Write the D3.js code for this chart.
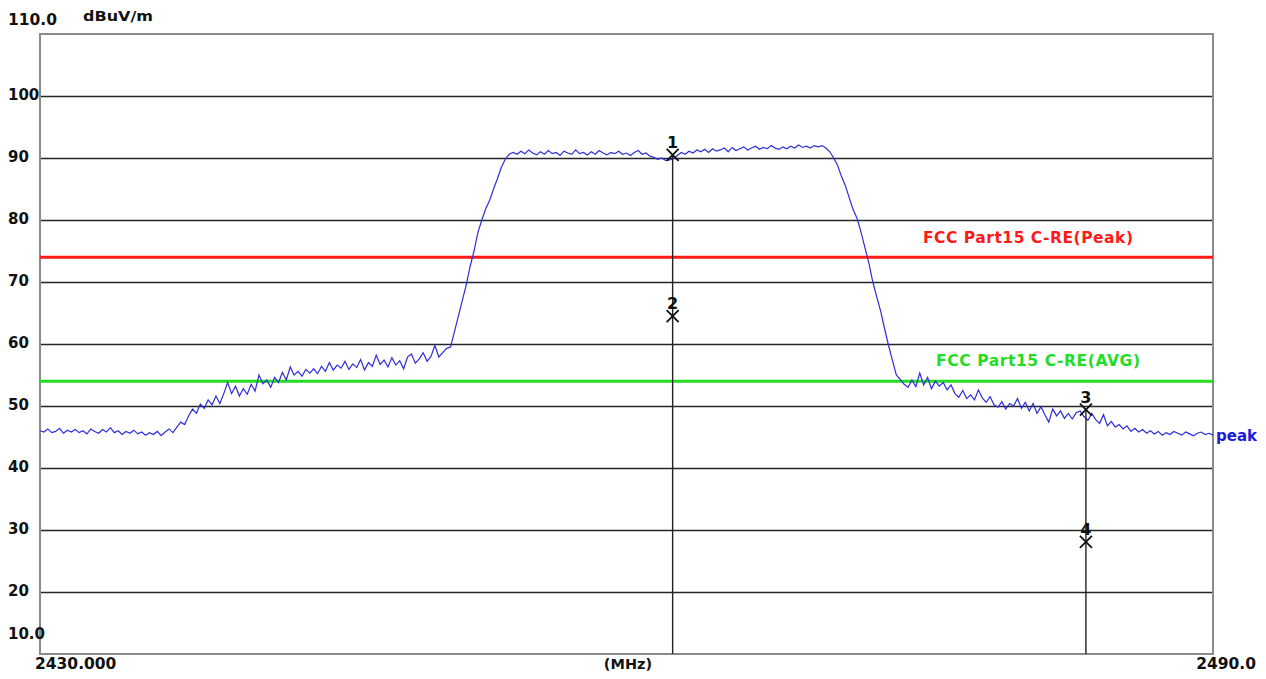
<!DOCTYPE html>
<html>
<head>
<meta charset="utf-8">
<script src="https://cdn.jsdelivr.net/npm/d3@7"></script>
<style>
  body { margin: 0; background: #fff; }
  svg text { font-family: "DejaVu Sans", Verdana, sans-serif; font-weight: bold; }
</style>
</head>
<body>
<svg id="chart" width="1266" height="679"></svg>
<script>
// spectrum trace, dBuV/m, sampled every 0.2 MHz from 2430 MHz
var freqStart = 2430, freqStep = 0.2;
var traceValues = [
  46.0, 45.8, 46.3, 45.7, 45.9, 46.4, 45.6, 46.1, 45.8, 46.2,
  45.7, 46.0, 45.5, 46.3, 45.9, 45.6, 46.2, 45.8, 46.5, 45.7,
  46.0, 45.4, 45.9, 45.6, 46.1, 45.5, 45.8, 45.3, 45.7, 45.4,
  45.9, 45.2, 45.8, 46.3, 45.7, 46.6, 47.4, 47.0, 48.4, 49.5,
  48.8, 50.3, 49.6, 51.0, 50.2, 51.6, 50.4, 52.0, 53.8, 52.0,
  53.2, 51.6, 52.8, 51.9, 53.5, 52.4, 55.0, 53.6, 54.2, 53.0,
  54.6, 53.8, 55.4, 54.2, 56.3, 55.0, 55.6, 54.8, 55.9, 55.3,
  56.0, 55.2, 56.4, 55.6, 57.0, 55.8, 56.6, 56.1, 57.2, 55.9,
  56.8, 56.2, 57.5, 55.8, 57.0, 56.4, 58.2, 56.7, 57.4, 56.3,
  57.8, 56.6, 57.3, 56.0, 57.9, 58.4, 56.9, 57.6, 58.6, 57.2,
  58.0, 59.8, 57.9, 58.6, 59.3,
  59.5, 62.0, 64.5, 67.0, 69.5, 72.5, 75.0, 78.0, 80.0, 81.8,
  83.2, 85.0, 86.7, 88.5, 89.8, 90.6,
  90.9, 90.6, 91.1, 90.7, 91.3, 90.8, 90.5, 91.0, 90.6, 91.2,
  90.7, 90.9, 90.4, 91.1, 90.8, 90.6, 91.3, 90.7, 90.9, 90.5,
  91.0, 90.6, 91.2, 90.8, 90.5, 90.9, 90.7, 91.1, 90.6, 90.8,
  90.4, 90.9, 91.2, 90.6, 90.8, 90.3, 90.1, 89.8, 90.0, 89.6,
  89.7, 89.9, 90.4, 90.9, 90.6, 91.1, 90.8, 91.3, 91.0, 91.4,
  90.9, 91.5, 91.1, 91.3, 91.6, 91.0, 91.7, 91.2, 91.5, 91.8,
  91.3, 91.6, 91.9, 91.4, 91.7, 91.5, 92.0, 91.6, 91.4, 91.8,
  91.5, 91.9, 91.6, 92.1, 91.7, 91.9, 91.6, 92.0, 91.8, 92.0,
  91.6, 91.0, 90.0, 88.8, 87.0, 85.5, 83.5, 81.6, 80.2, 78.0,
  75.5, 73.0, 70.0, 67.6, 65.3, 62.5, 59.8, 57.4, 55.0, 54.3,
  53.5, 53.0, 54.2, 53.1, 55.3, 53.4, 54.6, 52.8, 54.0, 53.2,
  53.8, 52.6, 53.4, 52.0, 51.4, 52.5, 51.2, 51.8, 51.0, 52.6,
  51.3, 50.6, 51.5, 50.2, 49.8, 50.7, 49.5, 50.4, 50.0, 51.2,
  49.6, 50.6, 49.2, 50.4, 48.8, 49.9, 48.6, 47.4, 49.5, 48.4,
  49.2, 48.0, 48.8, 47.9, 48.9, 49.2, 48.3, 47.7, 48.8, 47.8,
  47.2, 48.6, 46.8, 47.5, 46.6, 47.0, 46.3, 46.8, 45.9, 46.4,
  45.8, 46.2, 45.6, 46.0, 45.5, 45.9, 45.3, 45.7, 45.4, 45.9,
  45.6, 45.3, 45.8, 45.5, 45.2, 45.6, 45.8, 45.4, 45.6, 45.3
];

var yTicks = [100, 90, 80, 70, 60, 50, 40, 30, 20];
var limits = [
  {name: "FCC Part15 C-RE(Peak)", value: 74, color: "#ff1a1a"},
  {name: "FCC Part15 C-RE(AVG)", value: 54, color: "#22dd22"}
];
var markers = [
  {n: "1", f: 2462.36, v: 90.5},
  {n: "2", f: 2462.36, v: 64.5},
  {n: "3", f: 2483.5, v: 49.4},
  {n: "4", f: 2483.5, v: 28.1}
];

var svg = d3.select("#chart");
var x = d3.scaleLinear().domain([2430, 2490]).range([40, 1213]);
var y = d3.scaleLinear().domain([10, 110]).range([654, 34]);

// grid
svg.append("g")
  .attr("transform", "translate(40,0)")
  .call(d3.axisLeft(y).tickValues(yTicks).tickSize(-1173).tickFormat(function(d){ return d; }))
  .call(function(g){
    g.select(".domain").remove();
    g.selectAll(".tick line").attr("stroke", "#262626").attr("stroke-width", 1.5);
    g.selectAll(".tick text")
      .attr("x", -32).attr("dy", "0.2em")
      .attr("text-anchor", "start")
      .attr("font-size", 15).attr("fill", "#111")
      .style("font-family", "DejaVu Sans").style("font-weight", "bold");
  });

// frame
svg.append("rect")
  .attr("x", 40).attr("y", 34).attr("width", 1173).attr("height", 620)
  .attr("fill", "none").attr("stroke", "#8a8a8a").attr("stroke-width", 2);

// end labels
svg.append("text").attr("x", 8).attr("y", 25).attr("font-size", 15.5).attr("fill", "#111").text("110.0");
svg.append("text").attr("x", 83).attr("y", 21).attr("font-size", 14)
  .attr("textLength", 70).attr("lengthAdjust", "spacingAndGlyphs").attr("fill", "#111").text("dBuV/m");
svg.append("text").attr("x", 8).attr("y", y(10) - 15).attr("font-size", 15).attr("fill", "#111").text("10.0");
svg.append("text").attr("x", 35).attr("y", 669).attr("font-size", 15.5).attr("fill", "#111").text("2430.000");
svg.append("text").attr("x", 628).attr("y", 669).attr("text-anchor", "middle").attr("font-size", 14.5).attr("fill", "#111").text("(MHz)");
svg.append("text").attr("x", 1256).attr("y", 669).attr("text-anchor", "end").attr("font-size", 15.5).attr("fill", "#111").text("2490.0");

// limit lines
limits.forEach(function(l){
  svg.append("line")
    .attr("x1", 40).attr("x2", 1213).attr("y1", y(l.value)).attr("y2", y(l.value))
    .attr("stroke", l.color).attr("stroke-width", 3);
});
svg.append("text").attr("x", 923).attr("y", 243)
  .attr("font-size", 15.5).attr("textLength", 210).attr("lengthAdjust", "spacing")
  .attr("fill", limits[0].color).text(limits[0].name);
svg.append("text").attr("x", 936).attr("y", 366)
  .attr("font-size", 15.5).attr("textLength", 204).attr("lengthAdjust", "spacing")
  .attr("fill", limits[1].color).text(limits[1].name);

// trace
var line = d3.line()
  .x(function(d, i){ return x(freqStart + i * freqStep); })
  .y(function(d){ return y(d); });
svg.append("path")
  .datum(traceValues)
  .attr("d", line)
  .attr("fill", "none").attr("stroke", "#2e2ed8").attr("stroke-width", 1.2);
svg.append("text").attr("x", 1216).attr("y", 441).attr("font-size", 15).attr("fill", "#1c1cd8").text("peak");

// marker lines
var byFreq = d3.group(markers, function(m){ return m.f; });
byFreq.forEach(function(ms, f){
  var top = d3.max(ms, function(m){ return m.v; });
  svg.append("line")
    .attr("x1", x(f)).attr("x2", x(f)).attr("y1", y(top)).attr("y2", 654)
    .attr("stroke", "#222").attr("stroke-width", 1.4);
});

// markers
var mk = svg.selectAll("g.marker").data(markers).enter().append("g")
  .attr("class", "marker")
  .attr("transform", function(m){ return "translate(" + x(m.f) + "," + y(m.v) + ")"; });
mk.append("path")
  .attr("d", "M-6,-6L6,6M-6,6L6,-6")
  .attr("stroke", "#111").attr("stroke-width", 1.8);
mk.append("text")
  .attr("y", -7).attr("text-anchor", "middle")
  .attr("font-size", 16).attr("fill", "#111")
  .text(function(m){ return m.n; });
</script>
</body>
</html>
